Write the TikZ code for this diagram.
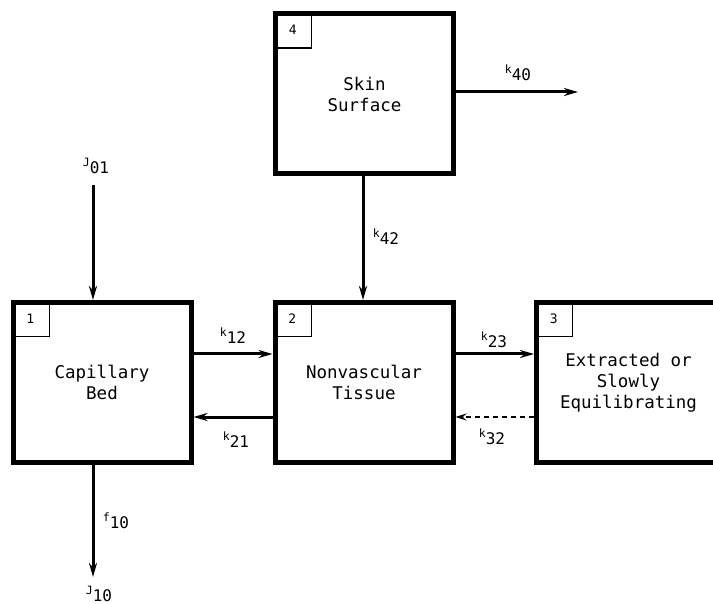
\documentclass[tikz,border=0pt]{standalone}
\usepackage{fontspec}
\setmonofont{DejaVu Sans Mono}
\usetikzlibrary{arrows.meta}
\tikzset{
  comp/.style={draw, line width=5pt, minimum width=178pt, minimum height=160pt, inner sep=0pt, align=center, font=\ttfamily\fontsize{17.5}{21}\selectfont},
  numbox/.style={draw, line width=1.4pt, minimum width=38pt, minimum height=36pt, inner sep=0pt, font=\ttfamily\fontsize{13}{14}\selectfont},
  flow/.style={line width=3pt, -{Stealth[length=14pt,width=8pt]}},
  dflow/.style={line width=1.3pt, dashed, dash pattern=on 5pt off 4pt, -{Stealth[length=11pt,width=7pt]}},
  lab/.style={font=\ttfamily\fontsize{16}{18}\selectfont, inner sep=1pt},
}
\newcommand{\rt}[2]{{\fontsize{11.5}{12}\selectfont #1}\raisebox{-7pt}{#2}}
\begin{document}
\begin{tikzpicture}[x=1pt,y=-1pt]
\useasboundingbox (0,0) rectangle (713,604);
% compartments
\node[comp] (b4) at (364.5,94) {Skin\\Surface};
\node[comp] (b1) at (102,382.5) {Capillary\\Bed};
\node[comp] (b2) at (364,382.5) {Nonvascular\\Tissue};
\node[comp, minimum width=180pt, anchor=west] (b3) at (534,382.5) {\hspace*{4pt}Extracted or\\\hspace*{4pt}Slowly\\\hspace*{4pt}Equilibrating};
% number boxes
\node[numbox, anchor=north west] (n4) at (b4.north west) {4};
\node[numbox, anchor=north west] (n1) at (b1.north west) {1};
\node[numbox, anchor=north west] (n2) at (b2.north west) {2};
\node[numbox, anchor=north west] (n3) at (b3.north west) {3};
% free ends
\coordinate (k40e) at (578,92);
\coordinate (j01s) at (93,185);
\coordinate (j10e) at (93,577);
% connectors
\draw[flow] (b4.east |- k40e) -- (k40e);
\draw[flow] (b4.south -| 363,0) -- (b2.north -| 363,0);
\draw[flow] (j01s) -- (b1.north -| j01s);
\draw[flow] (b1.east |- 0,354) -- (b2.west |- 0,354);
\draw[flow] (b2.west |- 0,417) -- (b1.east |- 0,417);
\draw[flow] (b2.east |- 0,354) -- (b3.west |- 0,354);
\draw[dflow] (b3.west |- 0,417) -- (b2.east |- 0,417);
\draw[flow] (b1.south -| j10e) -- (j10e);
% labels
\node[lab] (l40) at (518,73) {\rt{k}{40}};
\node[lab] (l42) at (386,237) {\rt{k}{42}};
\node[lab] (l01) at (96,166) {\rt{J}{01}};
\node[lab] (l12) at (233,336) {\rt{k}{12}};
\node[lab] (l21) at (236,440) {\rt{k}{21}};
\node[lab] (l23) at (494,340) {\rt{k}{23}};
\node[lab] (l32) at (492,437) {\rt{k}{32}};
\node[lab] (l10f) at (116,521) {\rt{f}{10}};
\node[lab] (l10j) at (99,594) {\rt{J}{10}};
\end{tikzpicture}
\end{document}
